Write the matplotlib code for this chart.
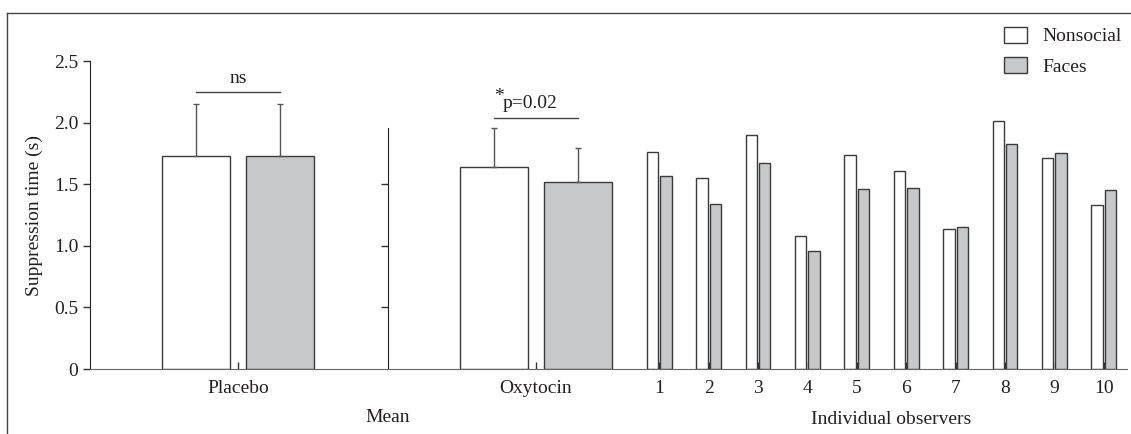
import matplotlib.pyplot as plt
from matplotlib.patches import Patch
from matplotlib.lines import Line2D

plt.rcParams['font.family'] = ['Liberation Serif', 'DejaVu Serif']
plt.rcParams['font.size'] = 14

# datos
grupos = ['Placebo', 'Oxytocin']
nonsocial_media = [1.73, 1.64]
nonsocial_err = [0.42, 0.32]
faces_media = [1.73, 1.52]
faces_err = [0.42, 0.27]

observadores = ['1', '2', '3', '4', '5', '6', '7', '8', '9', '10']
nonsocial_obs = [1.76, 1.55, 1.90, 1.08, 1.74, 1.61, 1.14, 2.01, 1.71, 1.33]
faces_obs = [1.57, 1.34, 1.67, 0.96, 1.46, 1.47, 1.15, 1.83, 1.75, 1.45]

sig_textos = ['ns', 'p=0.02']
sig_alturas = [2.25, 2.04]

W, H = 1131, 434
gris = '#c7c8ca'
borde = '#3a3a3a'
texto = '#231f20'
fs = 14

fig = plt.figure(figsize=(W / 100, H / 100), dpi=100)

def px(x0, y0, x1, y1):
    return [x0 / W, 1 - y1 / H, (x1 - x0) / W, (y1 - y0) / H]

ax1 = fig.add_axes(px(90, 61, 388, 369))
ax2 = fig.add_axes(px(388, 61, 1127, 369))

# marco de la figura (solo arriba e izquierda)
fig.add_artist(Line2D([7.3 / W, 7.3 / W], [0, 1 - 13.3 / H], transform=fig.transFigure, color='#444444', lw=1))
fig.add_artist(Line2D([7.3 / W, 1], [1 - 13.3 / H, 1 - 13.3 / H], transform=fig.transFigure, color='#444444', lw=1))

off = 0.62
ancho = 1.0
err_kw = dict(ecolor='#555555', elinewidth=1, capsize=2.5, capthick=1)

# panel izquierdo: placebo
ax1.bar([-off], [nonsocial_media[0]], ancho, color='white', edgecolor=borde, lw=1,
        yerr=[[0], [nonsocial_err[0]]], error_kw=err_kw, zorder=2)
ax1.bar([off], [faces_media[0]], ancho, color=gris, edgecolor=borde, lw=1,
        yerr=[[0], [faces_err[0]]], error_kw=err_kw, zorder=2)
ax1.plot([-off, off], [sig_alturas[0], sig_alturas[0]], color='#444444', lw=1)
ax1.text(0, sig_alturas[0] + 0.04, sig_textos[0], ha='center', va='bottom', color=texto, fontsize=fs)
ax1.set_xlim(-2.176, 2.206)
ax1.set_ylim(0, 2.5)
ax1.set_yticks([0, 0.5, 1.0, 1.5, 2.0, 2.5])
ax1.set_yticklabels(['0', '0.5', '1.0', '1.5', '2.0', '2.5'])
ax1.set_xticks([0])
ax1.set_xticklabels([grupos[0]])
ax1.set_ylabel('Suppression time (s)', color=texto, labelpad=8, fontsize=fs)

# panel derecho: oxitocina + observadores
ax2.bar([-off], [nonsocial_media[1]], ancho, color='white', edgecolor=borde, lw=1,
        yerr=[[0], [nonsocial_err[1]]], error_kw=err_kw, zorder=2)
ax2.bar([off], [faces_media[1]], ancho, color=gris, edgecolor=borde, lw=1,
        yerr=[[0], [faces_err[1]]], error_kw=err_kw, zorder=2)
ax2.plot([-off, off], [sig_alturas[1], sig_alturas[1]], color='#444444', lw=1)
ax2.text(-0.48, sig_alturas[1] + 0.05, sig_textos[1], ha='left', va='bottom', color=texto, fontsize=fs)
ax2.text(-0.47, sig_alturas[1] + 0.10, '*', ha='right', va='bottom', color=texto, fontsize=fs)

pos_obs = [1.818 + 0.7265 * i for i in range(len(observadores))]
ax2.bar([p - 0.1 for p in pos_obs], nonsocial_obs, 0.17, color='white', edgecolor=borde, lw=1, zorder=2)
ax2.bar([p + 0.097 for p in pos_obs], faces_obs, 0.17, color=gris, edgecolor=borde, lw=1, zorder=2)
ax2.set_xlim(-2.172, 8.696)
ax2.set_ylim(0, 2.5)
ax2.set_yticks([0.5, 1.0, 1.5])
ax2.set_yticklabels([])
ax2.set_xticks([0] + pos_obs)
ax2.set_xticklabels([grupos[1]] + observadores)
ax2.spines['left'].set_bounds(0, 1.96)

for ax in (ax1, ax2):
    ax.spines['top'].set_visible(False)
    ax.spines['right'].set_visible(False)
    ax.spines['left'].set_color('#222222')
    ax.spines['bottom'].set_color('#666666')
    ax.tick_params(axis='y', direction='out', length=5, width=1, colors='#333333', labelcolor=texto, labelsize=fs)
    ax.tick_params(axis='x', direction='in', length=5, width=1, colors='#333333', labelcolor=texto, labelsize=fs, pad=8)
    ax.patch.set_alpha(0)

fig.text(388 / W, 1 - 418 / H, 'Mean', ha='center', va='center', color=texto, fontsize=fs)
fig.text(891 / W, 1 - 420 / H, 'Individual observers', ha='center', va='center', color=texto, fontsize=fs)

handles = [Patch(facecolor='white', edgecolor=borde, lw=1), Patch(facecolor=gris, edgecolor=borde, lw=1)]
fig.legend(handles, ['Nonsocial', 'Faces'], loc='upper left', bbox_to_anchor=(1004 / W, 1 - 27 / H),
           frameon=False, borderpad=0, borderaxespad=0, handlelength=1.2, handleheight=0.85,
           handletextpad=0.75, labelspacing=0.6, fontsize=fs, labelcolor=texto)

plt.savefig('out.png', dpi=100)
